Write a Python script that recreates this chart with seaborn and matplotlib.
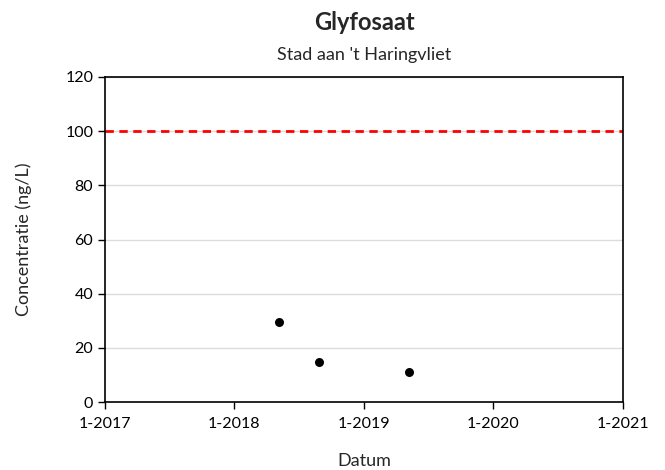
import matplotlib
matplotlib.use("Agg")
import matplotlib.pyplot as plt
import matplotlib.dates as mdates
import seaborn as sns
import pandas as pd

dates = ["2018-05-08", "2018-08-27", "2019-05-08"]
values = [29.4, 14.7, 11.0]
norm_value = 100
x_ticks = ["2017-01-01", "2018-01-01", "2019-01-01", "2020-01-01", "2021-01-01"]
y_ticks = [0, 20, 40, 60, 80, 100, 120]

df = pd.DataFrame({"Datum": pd.to_datetime(dates), "Concentratie": values})

sns.set_style("white")
plt.rcParams['font.family'] = ['Lato', 'DejaVu Sans']

fig = plt.figure(figsize=(6.65, 4.7), dpi=100)
ax = fig.add_axes([105/665, 1-402/470, (623-105)/665, (402-77)/470])

for y in y_ticks[1:]:
    ax.axhline(y, color="#dcdcdc", linewidth=1, zorder=0)

ax.axhline(norm_value, color="#ff0000", linestyle=(0, (3, 2)), linewidth=2, zorder=2)

sns.scatterplot(data=df, x="Datum", y="Concentratie", ax=ax, color="black",
                s=42, edgecolor="black", linewidth=0, zorder=3)

xt = pd.to_datetime(x_ticks)
ax.set_xlim(xt[0], xt[-1])
ax.set_xticks(xt)
ax.xaxis.set_major_formatter(mdates.DateFormatter("%-m-%Y"))
ax.set_ylim(0, 120)
ax.set_yticks(y_ticks)

for sp in ax.spines.values():
    sp.set_visible(True)
    sp.set_color("black")
    sp.set_linewidth(1.2)

ax.tick_params(axis="both", which="major", direction="out", length=5, width=1,
               color="black", labelsize=11.5, labelcolor="black", left=True, bottom=True)
ax.tick_params(axis="x", pad=6)

ax.set_xlabel("Datum", fontsize=13, labelpad=16)
ax.set_ylabel("Concentratie (ng/L)", fontsize=13, labelpad=24)

fig.text((105+623)/2/665, 1-22/470, "Glyfosaat", ha="center", va="center",
         fontsize=17, fontweight="bold")
fig.text((105+623)/2/665, 1-55/470, "Stad aan 't Haringvliet", ha="center", va="center",
         fontsize=13)

fig.savefig("out.png", dpi=100)
